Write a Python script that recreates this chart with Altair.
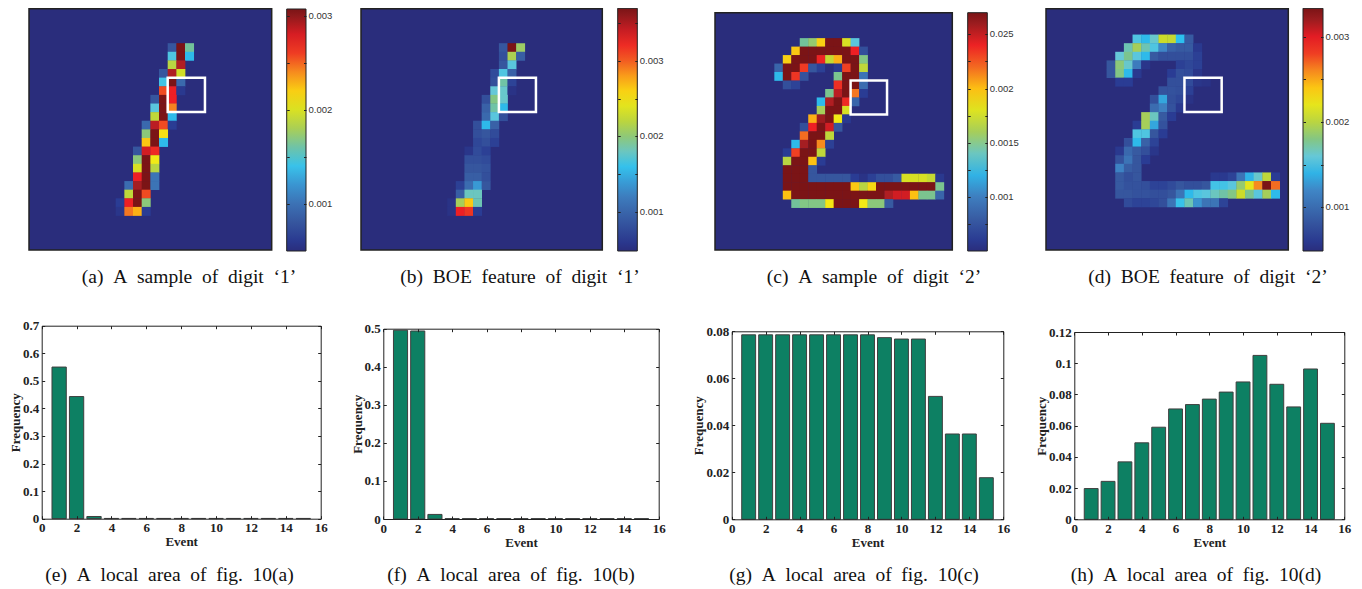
import altair as alt
import pandas as pd

W, H = 1346, 581
OFF = 8

# heatmap cells: (row, first column, colour position along the colour bar in %)
CELLS_A = [
    (4, 16, [12, 100, 44]), (5, 16, [37, 100, 33]), (6, 16, [53, 93]), (7, 15, [12, 93, 57]),
    (8, 15, [36, 100, 17]), (9, 15, [80, 87, 4]), (10, 14, [12, 100, 87]), (11, 14, [38, 100, 75]),
    (12, 14, [54, 100, 33]), (13, 13, [17, 92, 80, 5]), (14, 13, [47, 100, 64]), (15, 13, [67, 100, 33]),
    (16, 12, [12, 90, 85]), (17, 12, [47, 100, 62]), (18, 12, [58, 100, 53]), (19, 12, [87, 100, 20]),
    (20, 11, [18, 94, 100, 20]), (21, 11, [54, 100, 80]), (22, 10, [5, 87, 100, 47]), (23, 10, [3, 76, 70, 5]),
]
CELLS_B = [
    (4, 16, [12, 100, 49]), (5, 16, [10, 51, 14]), (6, 16, [12, 38]), (7, 15, [9, 37, 15]),
    (8, 15, [10, 43, 7]), (9, 15, [39, 40, 2]), (10, 14, [10, 46, 40]), (11, 14, [15, 43, 33]),
    (12, 14, [17, 38, 10]), (13, 13, [10, 33, 15]), (14, 13, [10, 12, 9]), (15, 13, [8, 10, 6]),
    (16, 12, [3, 9, 6]), (17, 12, [10, 10, 9]), (18, 12, [12, 12, 11]), (19, 12, [14, 14, 10]),
    (20, 11, [6, 18, 28, 12]), (21, 11, [14, 41, 41]), (22, 10, [2, 50, 67, 42]), (23, 10, [2, 87, 83, 5]),
]
CELLS_C = [
    (3, 10, [44, 48, 66, 100, 100, 58, 38]),
    (4, 9, [67, 100, 100, 100, 100, 100, 100, 87, 10]),
    (5, 8, [66, 100, 100, 100, 86, 55, 70, 100, 100, 46]),
    (6, 7, [16, 100, 100, 82, 12, 6, 0, 4, 81, 100, 54]),
    (7, 7, [33, 100, 83, 11]), (7, 14, [45, 100, 100, 20]),
    (8, 8, [10, 7]), (8, 14, [84, 100, 100, 18]),
    (9, 13, [45, 92, 100, 76, 5]), (10, 12, [33, 93, 100, 85, 16]), (11, 12, [50, 100, 100, 58]),
    (12, 11, [70, 95, 100, 62, 4]), (13, 10, [10, 87, 100, 90, 12]), (14, 10, [77, 100, 100, 54]),
    (15, 9, [33, 94, 100, 74, 6]), (16, 8, [5, 81, 100, 100, 54]), (17, 8, [53, 100, 100, 68, 5]),
    (18, 8, [100, 100, 100, 12]),
    (19, 8, [100, 100, 100, 12, 12, 12, 12, 12, 5, 2, 6, 10, 10, 13, 58, 58, 58, 55, 4]),
    (20, 8, [100, 100, 100, 100, 100, 100, 100, 100, 67, 53, 65, 100, 100, 100, 100, 100, 100, 100, 45]),
    (21, 8, [68, 100, 100, 100, 100, 100, 100, 100, 100, 100, 100, 100, 93, 90, 90, 68, 45, 45, 16]),
    (22, 9, [44, 46, 46, 46, 63, 100, 100, 100, 62, 47, 47, 13]),
]
CELLS_D = [
    (3, 10, [37, 33, 40, 56, 55, 34, 13]),
    (4, 9, [42, 50, 42, 37, 25, 15, 13, 13, 4]),
    (5, 8, [39, 45, 38, 33, 13, 10, 10, 10, 10, 6]),
    (6, 7, [12, 47, 40, 22, 3]), (6, 15, [6, 8, 6]),
    (7, 7, [12, 46, 33, 4]), (7, 14, [5, 10, 9, 3]),
    (8, 8, [5, 5]), (8, 14, [10, 10, 9, 3, 2]),
    (9, 13, [11, 11, 10, 6]), (10, 12, [10, 30, 10, 8, 2]), (11, 12, [18, 23, 11, 4]),
    (12, 11, [50, 41, 13, 5]), (13, 10, [5, 50, 30, 11]), (14, 10, [37, 37, 12, 5]),
    (15, 9, [10, 33, 15, 7]), (16, 8, [4, 17, 13, 10, 3]), (17, 8, [11, 20, 12, 5]),
    (18, 8, [24, 14, 12]),
    (19, 8, [13, 10, 12]), (19, 19, [4, 4, 7, 20, 32, 40, 54, 5]),
    (20, 8, [13, 11, 11, 10, 7, 7, 9, 12, 10, 10, 12, 36, 36, 38, 48, 60, 74, 100, 77]),
    (21, 8, [12, 12, 11, 11, 10, 10, 12, 20, 33, 37, 38, 41, 43, 46, 56, 45, 38, 50, 33]),
    (22, 9, [9, 7, 7, 8, 10, 20, 35, 42, 27, 20, 20, 7]),
]

# colour bar value ranges, ticks and labelled ticks
RANGE_A = (0.000495, 0.00307)
RANGE_B = (0.00049, 0.00369)
RANGE_C = (0.0005, 0.0027)
RANGE_D = (0.00049, 0.00333)
TICKS_A = [0.001, 0.0015, 0.002, 0.0025, 0.003]
TICKS_B = [0.001, 0.0015, 0.002, 0.0025, 0.003, 0.0035]
TICKS_C = [0.00075, 0.001, 0.00125, 0.0015, 0.00175, 0.002, 0.00225, 0.0025]
TICKS_D = [0.001, 0.0015, 0.002, 0.0025, 0.003]
LABELS_A = {0.001: "0.001", 0.002: "0.002", 0.003: "0.003"}
LABELS_B = {0.001: "0.001", 0.002: "0.002", 0.003: "0.003"}
LABELS_C = {0.001: "0.001", 0.0015: "0.0015", 0.002: "0.002", 0.0025: "0.025"}
LABELS_D = {0.001: "0.001", 0.002: "0.002", 0.003: "0.003"}

# white boxes (left, right, top, bottom in cell units)
BOX = (16, 20.3, 8, 12)

# jet-like colour map: stop position, colour
STOPS = [0, 0.05, 0.125, 0.25, 0.34, 0.39, 0.44, 0.5, 0.56, 0.625, 0.69, 0.75, 0.81, 0.875, 0.94, 1]
COLORS = ["#2a2d7c", "#2a3c94", "#37589f", "#3f86c6", "#2cc0ef", "#66c8d8", "#72c29a", "#a6ce5a", "#cbdb2a",
          "#f4eb14", "#fdb913", "#f58220", "#ef4023", "#ed1c24", "#a51e22", "#7b1416"]

# bar charts
EVENTS = list(range(1, 16))
FREQ_E = [0.55, 0.443, 0.008, 0.001, 0.001, 0.001, 0.001, 0.001, 0.001, 0.001, 0.001, 0.001, 0.001, 0.001, 0.001]
FREQ_F = [0.496, 0.494, 0.012, 0.001, 0.001, 0.001, 0.001, 0.001, 0.001, 0.001, 0.001, 0.001, 0.001, 0.001, 0.001]
FREQ_G = [0.0785, 0.0785, 0.0785, 0.0785, 0.0785, 0.0785, 0.0785, 0.0785, 0.0773, 0.0767, 0.0767, 0.0523, 0.0363, 0.0363, 0.0177]
FREQ_H = [0.0197, 0.0243, 0.0368, 0.049, 0.059, 0.0707, 0.0735, 0.077, 0.0815, 0.088, 0.105, 0.0865, 0.072, 0.0963, 0.0615]
X_TICKS = [0, 2, 4, 6, 8, 10, 12, 14, 16]
Y_TICKS_E = [0, 0.1, 0.2, 0.3, 0.4, 0.5, 0.6, 0.7]
Y_TICKS_F = [0, 0.1, 0.2, 0.3, 0.4, 0.5]
Y_TICKS_G = [0, 0.02, 0.04, 0.06, 0.08]
Y_TICKS_H = [0, 0.02, 0.04, 0.06, 0.08, 0.1, 0.12]
BAR_HALF = 0.41

CAPTIONS = ["(a) A sample of digit ‘1’", "(b) BOE feature of digit ‘1’", "(c) A sample of digit ‘2’",
            "(d) BOE feature of digit ‘2’", "(e) A local area of fig. 10(a)", "(f) A local area of fig. 10(b)",
            "(g) A local area of fig. 10(c)", "(h) A local area of fig. 10(d)"]

# layout in page pixels
CAP_X = [189, 520, 874, 1208, 169.5, 511, 854, 1196]
CAP_Y = [283, 283, 283, 283, 581, 581, 581, 581]
HEAT_FRAMES = [(29, 271.7, 8.7, 250), (361, 602.3, 8.7, 250), (715, 952.3, 12.7, 250), (1046, 1288.3, 8.7, 250)]
CBAR_FRAMES = [(286.7, 306, 9, 251), (617.7, 637.3, 8.3, 251), (967.7, 987.3, 12.7, 251), (1303, 1323, 8.3, 251)]
BAR_FRAMES = [(41.7, 320.7, 325.7, 518.7), (383.3, 658.7, 328.7, 519), (731.7, 1003.3, 331.3, 519.3), (1074.3, 1344.3, 332, 519.3)]

SERIF = "Liberation Serif"
SANS = "Liberation Sans"
INK = "#222222"
SEAM = 0.04  # slight cell overlap so that no seams show between cells


def px(v):
    return v - OFF


def heat_layers(cells, vrange, ticks, labels, frame, cbar):
    x0, x1, y0, y1 = map(px, frame)
    bx0, bx1, by0, by1 = map(px, cbar)
    vmin, vmax = vrange
    to_val = lambda f: vmin + f * (vmax - vmin)
    xs = alt.Scale(domain=[0, 28], range=[x0, x1], nice=False)
    ys = alt.Scale(domain=[0, 28], range=[y0, y1], nice=False)
    recs = []
    for row, start, vals in cells:
        for i, p in enumerate(vals):
            recs.append(dict(c=start + i, c2=start + i + 1 + SEAM, r=row, r2=row + 1 + SEAM, v=to_val(p / 100)))
    expr = " : ".join(f"datum.value == {k} ? '{v}'" for k, v in labels.items()) + " : ''"
    color = alt.Color(
        "v:Q",
        scale=alt.Scale(domain=[to_val(s) for s in STOPS], range=COLORS, interpolate="rgb"),
        legend=alt.Legend(orient="none", legendX=bx0, legendY=by0, title=None, direction="vertical",
                          gradientLength=by1 - by0, gradientThickness=bx1 - bx0, padding=0,
                          values=list(labels.keys()), labelExpr=expr, labelFont=SANS, labelFontSize=9.5,
                          labelColor="#333333", labelOffset=2.5, labelOverlap=False,
                          gradientStrokeColor=INK, gradientStrokeWidth=1),
    )
    def pos(chart):
        return chart.encode(
            x=alt.X("c:Q", scale=xs, axis=None), x2="c2:Q",
            y=alt.Y("r:Q", scale=ys, axis=None), y2="r2:Q",
        )
    whole = pd.DataFrame([dict(c=0, c2=28, r=0, r2=28)])
    bg = pos(alt.Chart(whole).mark_rect(fill=COLORS[0]))
    body = pos(alt.Chart(pd.DataFrame(recs)).mark_rect()).encode(color=color)
    border = pos(alt.Chart(whole).mark_rect(fill="transparent", stroke=INK, strokeWidth=1.5))
    box = pos(alt.Chart(pd.DataFrame([dict(c=BOX[0], c2=BOX[1], r=BOX[2], r2=BOX[3])]))
              .mark_rect(fill="transparent", stroke="white", strokeWidth=2.5))
    # colour bar ticks
    tick_df = pd.DataFrame({"t": ticks})
    cs = alt.Scale(domain=[vmin, vmax], range=[by1, by0], nice=False, zero=False)
    ghost = alt.Chart(tick_df).mark_point(opacity=0)
    tick = dict(values=ticks, labels=False, tickSize=2.5, tickColor=INK, domain=False, grid=False, zindex=2)
    right = ghost.encode(y=alt.Y("t:Q", scale=cs, title=None, axis=alt.Axis(orient="left", offset=-bx1, **tick)))
    left = ghost.encode(y=alt.Y("t:Q", scale=cs, title=None, axis=alt.Axis(orient="right", offset=bx0 - W, **tick)))
    return [bg, body, border, box, right, left]


def bar_layers(freq, yticks, ymax, frame):
    x0, x1, y0, y1 = map(px, frame)
    df = pd.DataFrame({"e": EVENTS, "f": freq})
    df["e0"] = df["e"] - BAR_HALF
    df["e1"] = df["e"] + BAR_HALF
    df["base"] = 0.0
    xs = alt.Scale(domain=[0, 16], range=[x0, x1], nice=False, zero=False)
    ys = alt.Scale(domain=[0, ymax], range=[y1, y0], nice=False)
    label = dict(labelFont=SERIF, labelFontWeight="bold", labelFontSize=13, labelColor=INK,
                 titleFont=SERIF, titleFontWeight="bold", titleFontSize=13, titleColor=INK,
                 labelOverlap=False, labelFlush=False, labelBound=False, grid=False, domain=False, ticks=False)
    tick = dict(labels=False, grid=False, domain=True, domainColor=INK, domainWidth=1, tickColor=INK, tickSize=3,
                tickWidth=1, zindex=2)
    bars = alt.Chart(df).mark_rect(color="#0d8063", stroke="#3f3f3f", strokeWidth=1).encode(
        x=alt.X("e0:Q", scale=xs, title="Event", axis=alt.Axis(
            orient="bottom", offset=y1 - H, values=X_TICKS, labelPadding=3, titlePadding=1, **label)),
        x2="e1:Q",
        y=alt.Y("f:Q", scale=ys, title="Frequency", axis=alt.Axis(
            orient="left", offset=-x0, values=yticks, labelExpr="'' + datum.value", labelPadding=3,
            titlePadding=0, **label)),
        y2="base:Q",
    )
    ghost = alt.Chart(df).mark_point(opacity=0)
    g1 = ghost.encode(
        x=alt.X("e:Q", scale=xs, title=None, axis=alt.Axis(orient="top", offset=-y1, values=X_TICKS, **tick)),
        y=alt.Y("f:Q", scale=ys, title=None, axis=alt.Axis(orient="right", offset=x0 - W, values=yticks, **tick)),
    )
    g2 = ghost.encode(
        x=alt.X("e:Q", scale=xs, title=None, axis=alt.Axis(orient="bottom", offset=y0 - H, values=X_TICKS, **tick)),
        y=alt.Y("f:Q", scale=ys, title=None, axis=alt.Axis(orient="left", offset=-x1, values=yticks, **tick)),
    )
    return [bars, g1, g2]


layers = []
for cells, rng, ticks, labs, fr, cb in zip(
        [CELLS_A, CELLS_B, CELLS_C, CELLS_D], [RANGE_A, RANGE_B, RANGE_C, RANGE_D],
        [TICKS_A, TICKS_B, TICKS_C, TICKS_D], [LABELS_A, LABELS_B, LABELS_C, LABELS_D],
        HEAT_FRAMES, CBAR_FRAMES):
    layers += heat_layers(cells, rng, ticks, labs, fr, cb)
for freq, yt, ymax, fr in zip([FREQ_E, FREQ_F, FREQ_G, FREQ_H], [Y_TICKS_E, Y_TICKS_F, Y_TICKS_G, Y_TICKS_H],
                              [0.7, 0.5, 0.08, 0.12], BAR_FRAMES):
    layers += bar_layers(freq, yt, ymax, fr)
for cap, cx, cy in zip(CAPTIONS, CAP_X, CAP_Y):
    layers.append(
        alt.Chart(pd.DataFrame({"t": [cap.replace(" ", "\u00a0\u00a0")]}))
        .mark_text(font=SERIF, fontSize=19.5, color="#111111", align="center", baseline="alphabetic")
        .encode(text="t:N", x=alt.value(px(cx)), y=alt.value(px(cy)))
    )

chart = (
    alt.layer(*layers)
    .resolve_scale(x="independent", y="independent", color="independent")
    .resolve_axis(x="independent", y="independent")
    .resolve_legend(color="independent")
    .properties(width=W, height=H, padding=0, autosize=alt.AutoSizeParams(type="none"))
    .configure_view(stroke=None)
)
chart.save("out.html", embed_options={"renderer": "svg", "actions": False})
